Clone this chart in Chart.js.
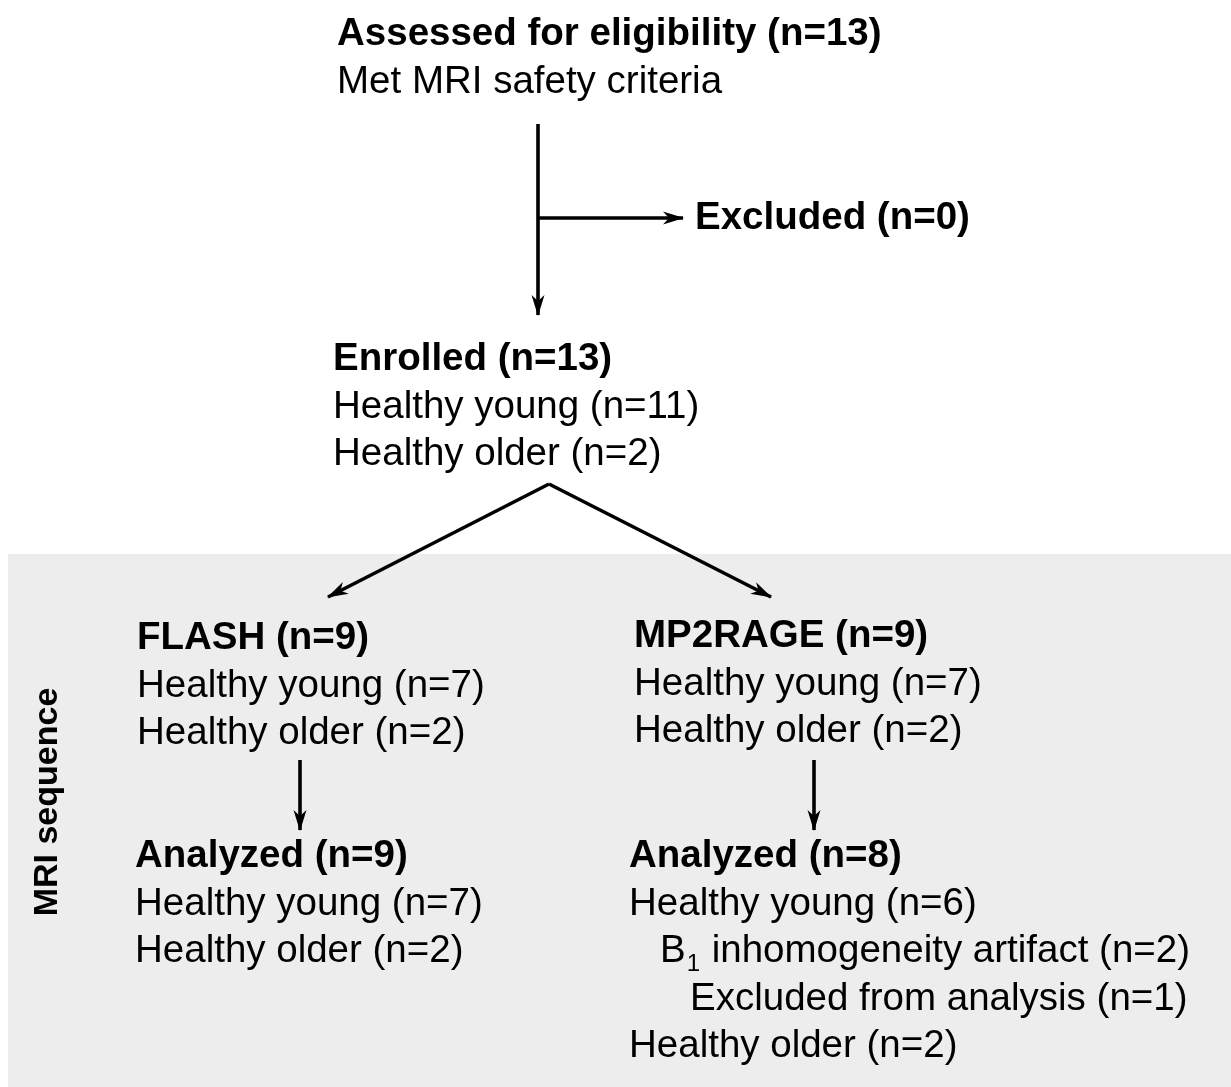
<!DOCTYPE html>
<html>
<head>
<meta charset="utf-8">
<script src="https://cdn.jsdelivr.net/npm/chart.js@4"></script>
<style>
  html, body { margin: 0; padding: 0; background: #ffffff; }
  #wrap { width: 1231px; height: 1087px; }
</style>
</head>
<body>
<div id="wrap"><canvas id="c" width="1231" height="1087"></canvas></div>
<script>
// ---------------- DATA ----------------
const assessedLabel = 'Assessed for eligibility';
const assessedNote = 'Met MRI safety criteria';
const assessedN = 13;
const excludedLabel = 'Excluded';
const excludedN = 0;
const enrolledLabel = 'Enrolled';
const groups = ['Healthy young', 'Healthy older'];
const enrolledCounts = [11, 2];
const sequences = ['FLASH', 'MP2RAGE'];
const sequenceCounts = [[7, 2], [7, 2]];
const analyzedLabel = 'Analyzed';
const analyzedCounts = [[7, 2], [6, 2]];
const artifactLabels = ['inhomogeneity artifact', 'Excluded from analysis'];
const artifactCounts = [2, 1];
const sideLabel = 'MRI sequence';

const sum = a => a.reduce((s, v) => s + v, 0);
const nTxt = n => '(n=' + n + ')';

// ---------------- LAYOUT (positions, not data) ----------------
const W = 1231, H = 1087;
const LINE = 47.5;
const FONT = '"Liberation Sans", Arial, sans-serif';
const FS = 38.5;
const L = {
  assessed: {x: 337, y: 45},
  excluded: {x: 695, y: 229},
  enrolled: {x: 333, y: 370},
  seq: [{x: 137, y: 649}, {x: 634, y: 647}],
  ana: [{x: 135, y: 867}, {x: 629, y: 867}],
  panel: {x0: 8, y0: 554},
  side: {x: 48, y: 802}
};
const trunk = {x: 538, y0: 124, y1: 315, yBranch: 218, xArrow: 683};
const apex = {x: 549, y: 484};
const splitEnds = [{x: 328, y: 597}, {x: 771, y: 597}];
const seqArrow = [{x: 300, y0: 760, y1: 830}, {x: 814, y0: 760, y1: 830}];

// connector segments built from layout anchors
const segs = [
  [{x: trunk.x, y: trunk.y0}, {x: trunk.x, y: trunk.y1}],
  [{x: trunk.x, y: trunk.yBranch}, {x: trunk.xArrow, y: trunk.yBranch}],
  [apex, splitEnds[0]],
  [apex, splitEnds[1]],
  [{x: seqArrow[0].x, y: seqArrow[0].y0}, {x: seqArrow[0].x, y: seqArrow[0].y1}],
  [{x: seqArrow[1].x, y: seqArrow[1].y0}, {x: seqArrow[1].x, y: seqArrow[1].y1}]
];
const arrowSegs = [0, 1, 2, 3, 4, 5];

const datasets = segs.map(s => ({
  type: 'line',
  data: s,
  borderColor: '#000',
  borderWidth: 3.6,
  borderCapStyle: 'butt',
  borderJoinStyle: 'miter',
  pointRadius: 0,
  showLine: true,
  fill: false,
  tension: 0
}));

const panelPlugin = {
  id: 'panel',
  beforeDatasetsDraw(chart) {
    const {ctx, scales: {x, y}} = chart;
    ctx.save();
    ctx.fillStyle = '#ededed';
    const px = x.getPixelForValue(L.panel.x0), py = y.getPixelForValue(L.panel.y0);
    ctx.fillRect(px, py, x.getPixelForValue(W) - px, y.getPixelForValue(H) - py);
    ctx.restore();
  }
};

const drawPlugin = {
  id: 'flow',
  afterDatasetsDraw(chart) {
    const {ctx, scales: {x, y}} = chart;
    const X = v => x.getPixelForValue(v), Y = v => y.getPixelForValue(v);
    ctx.save();
    // arrowheads
    ctx.fillStyle = '#000';
    arrowSegs.forEach(i => {
      const a = segs[i][0], b = segs[i][1];
      const ax = X(a.x), ay = Y(a.y), bx = X(b.x), by = Y(b.y);
      const ang = Math.atan2(by - ay, bx - ax);
      const len = 20, hw = 6.5, notch = 14;
      ctx.save();
      ctx.translate(bx, by);
      ctx.rotate(ang);
      ctx.beginPath();
      ctx.moveTo(1, 0);
      ctx.lineTo(-len, -hw);
      ctx.lineTo(-notch, 0);
      ctx.lineTo(-len, hw);
      ctx.closePath();
      ctx.fill();
      ctx.restore();
    });

    ctx.textBaseline = 'alphabetic';
    ctx.textAlign = 'left';
    const bold = (t, px, py) => { ctx.font = 'bold ' + FS + 'px ' + FONT; ctx.fillText(t, X(px), Y(py)); };
    const reg = (t, px, py) => { ctx.font = FS + 'px ' + FONT; ctx.fillText(t, X(px), Y(py)); };

    bold(assessedLabel + ' ' + nTxt(assessedN), L.assessed.x, L.assessed.y);
    reg(assessedNote, L.assessed.x, L.assessed.y + LINE);
    bold(excludedLabel + ' ' + nTxt(excludedN), L.excluded.x, L.excluded.y);

    bold(enrolledLabel + ' ' + nTxt(sum(enrolledCounts)), L.enrolled.x, L.enrolled.y);
    groups.forEach((g, i) => reg(g + ' ' + nTxt(enrolledCounts[i]), L.enrolled.x, L.enrolled.y + LINE * (i + 1)));

    sequences.forEach((s, k) => {
      const p = L.seq[k];
      bold(s + ' ' + nTxt(sum(sequenceCounts[k])), p.x, p.y);
      groups.forEach((g, i) => reg(g + ' ' + nTxt(sequenceCounts[k][i]), p.x, p.y + LINE * (i + 1)));
    });

    // Analyzed FLASH
    {
      const p = L.ana[0];
      bold(analyzedLabel + ' ' + nTxt(sum(analyzedCounts[0])), p.x, p.y);
      groups.forEach((g, i) => reg(g + ' ' + nTxt(analyzedCounts[0][i]), p.x, p.y + LINE * (i + 1)));
    }
    // Analyzed MP2RAGE
    {
      const p = L.ana[1];
      bold(analyzedLabel + ' ' + nTxt(sum(analyzedCounts[1])), p.x, p.y);
      reg(groups[0] + ' ' + nTxt(analyzedCounts[1][0]), p.x, p.y + LINE);
      // B1 line with subscript
      const bx = p.x + 31, by = p.y + LINE * 2;
      ctx.font = FS + 'px ' + FONT;
      ctx.fillText('B', X(bx), Y(by));
      const wB = ctx.measureText('B').width;
      ctx.font = '24px ' + FONT;
      ctx.fillText('1', X(bx) + wB + 1, Y(by) + 9);
      const w1 = ctx.measureText('1').width;
      ctx.font = FS + 'px ' + FONT;
      ctx.fillText(' ' + artifactLabels[0] + ' ' + nTxt(artifactCounts[0]), X(bx) + wB + w1 + 2, Y(by));
      reg(artifactLabels[1] + ' ' + nTxt(artifactCounts[1]), p.x + 61, p.y + LINE * 3);
      reg(groups[1] + ' ' + nTxt(analyzedCounts[1][1]), p.x, p.y + LINE * 4);
    }

    // rotated side label
    ctx.save();
    ctx.translate(X(L.side.x), Y(L.side.y));
    ctx.rotate(-Math.PI / 2);
    ctx.textAlign = 'center';
    ctx.textBaseline = 'middle';
    ctx.font = 'bold 34px ' + FONT;
    ctx.fillText(sideLabel, 0, 0);
    ctx.restore();

    ctx.restore();
  }
};

new Chart(document.getElementById('c'), {
  type: 'scatter',
  data: { datasets },
  options: {
    responsive: false,
    animation: false,
    devicePixelRatio: 1,
    layout: { padding: 0 },
    plugins: { legend: { display: false }, tooltip: { enabled: false } },
    scales: {
      x: { type: 'linear', min: 0, max: W, display: false },
      y: { type: 'linear', min: 0, max: H, reverse: true, display: false }
    }
  },
  plugins: [panelPlugin, drawPlugin]
});
</script>
</body>
</html>
